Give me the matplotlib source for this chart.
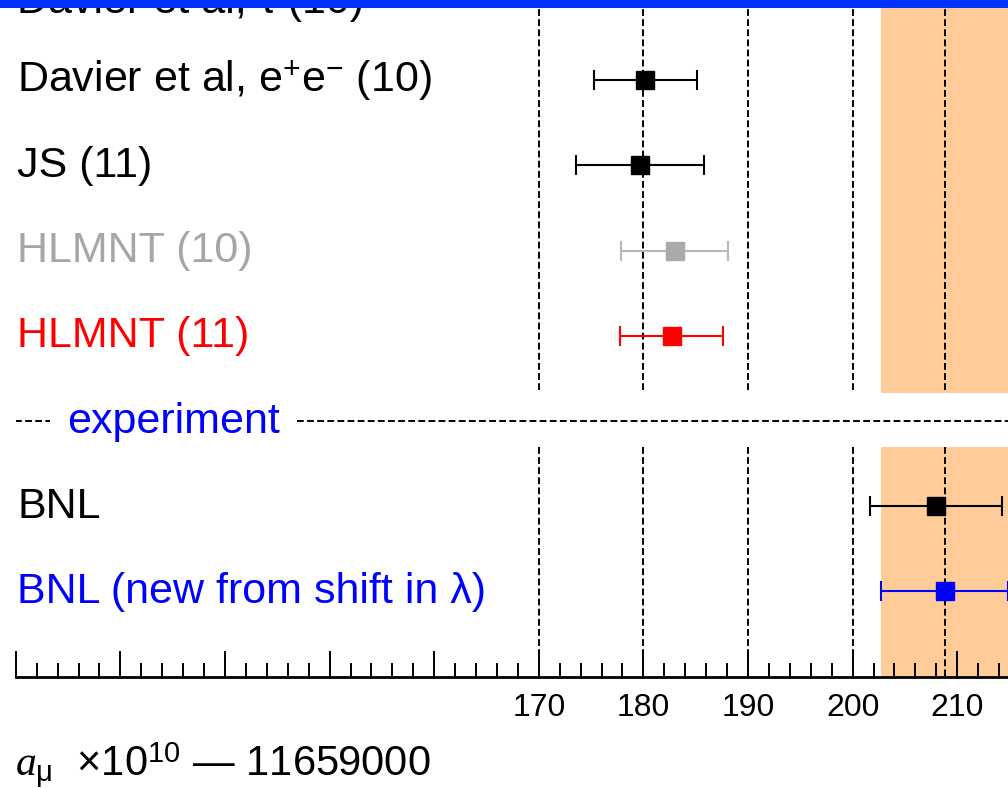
import numpy as np
import matplotlib
matplotlib.use("Agg")
import matplotlib.pyplot as plt
from matplotlib.patches import Rectangle
import matplotlib.transforms as mtransforms

plt.rcParams['font.family'] = ['Liberation Sans', 'DejaVu Sans']
plt.rcParams['mathtext.fontset'] = 'custom'
plt.rcParams['mathtext.rm'] = 'Liberation Sans'
plt.rcParams['mathtext.it'] = 'Liberation Serif:italic'
plt.rcParams['mathtext.bf'] = 'Liberation Sans:bold'

# ---- data ----
labels = ["Davier et al, \u03c4 (10)",
          "Davier et al, e$^{+}$e$^{-}$ (10)",
          "JS (11)",
          "HLMNT (10)",
          "HLMNT (11)",
          "experiment",
          "BNL",
          "BNL (new from shift in \u03bb)"]
label_colors = ["black", "black", "black", "#A6A6A6", "#FF0000", "#0000FF", "black", "#0000FF"]
values = [None, 180.2, 179.7, 183.0, 182.7, None, 208.0, 208.8]
errors = [None, 4.9, 6.1, 5.1, 4.9, None, 6.3, 6.1]
marker_colors = [None, "black", "black", "#AAAAAA", "#FF0000", None, "black", "#0000FF"]
line_colors = [None, "black", "black", "#B8B8B8", "#FF0000", None, "black", "#0000FF"]

ref_lines = [170, 180, 190, 200]
band_center = 208.8
band_half = 6.1
major_ticks = list(range(120, 211, 10))
labeled_ticks = [170, 180, 190, 200, 210]
xlabel = "$a_{\\mathrm{\\mu}}$  \u00d710$^{10}$ \u2014 11659000"

# ---- figure ----
W, H = 1008, 788
fig = plt.figure(figsize=(W / 100, H / 100), dpi=100)
ax_left = 15.8 / W
ax_bottom = (H - 676.6) / H
ax_width = 993.7 / W
ax_height = (676.6 + 5) / H
ax = fig.add_axes([ax_left, ax_bottom, ax_width, ax_height])
ax.set_xlim(120, 215)
ax.set_ylim(8, 0)

rows = np.arange(len(labels), dtype=float)
rows[0] += 0.076  # first (partly hidden) row sits slightly lower

sep_row = labels.index("experiment")
gap_top = sep_row - 0.33
gap_bot = sep_row + 0.31

# band
ax.add_patch(Rectangle((band_center - band_half, -1), 2 * band_half, gap_top + 1,
                       facecolor="#FFCC99", edgecolor="none", zorder=0))
ax.add_patch(Rectangle((band_center - band_half, gap_bot), 2 * band_half, 8 - gap_bot,
                       facecolor="#FFCC99", edgecolor="none", zorder=0))

dash = (0, (3.5, 1.7))
for xv in ref_lines + [band_center]:
    ax.vlines(xv, -1, gap_top, colors="black", linestyles=dash, linewidth=1.4, zorder=1)
    ax.vlines(xv, gap_bot, 8, colors="black", linestyles=dash, linewidth=1.4, zorder=1)

# separator
ax.hlines(sep_row, 119.9, 123.3, colors="black", linestyles=dash, linewidth=1.4, zorder=1)
ax.hlines(sep_row, 146.9, 216, colors="black", linestyles=dash, linewidth=1.4, zorder=1)

# points
for i, (v, e) in enumerate(zip(values, errors)):
    if v is None:
        continue
    ax.errorbar([v], [rows[i]], xerr=[e], fmt="s", color=line_colors[i],
                mfc=marker_colors[i], mec=marker_colors[i], ms=13,
                elinewidth=1.5, capsize=7.5, capthick=1.5, zorder=3)

# labels
offs = mtransforms.offset_copy(ax.transData, fig=fig, x=0, y=-11.5 * 0.72, units="points")
for i, (lab, c) in enumerate(zip(labels, label_colors)):
    xpos = 120.12 if lab != "experiment" else 124.9
    ax.text(xpos, rows[i], lab, color=c, fontsize=31, ha="left", va="baseline",
            transform=offs, zorder=4)

# axes styling
for s in ["left", "right", "top"]:
    ax.spines[s].set_visible(False)
ax.spines["bottom"].set_linewidth(2.0)
ax.set_yticks([])
ax.set_xticks(major_ticks)
ax.set_xticklabels([str(t) if t in labeled_ticks else "" for t in major_ticks])
ax.set_xticks(np.arange(120, 216, 2), minor=True)
ax.tick_params(axis="x", which="major", direction="in", length=18.7, width=1.4,
               pad=11.5, labelsize=23)
ax.tick_params(axis="x", which="minor", direction="in", length=10.2, width=1.4)
ax.patch.set_alpha(0)

fig.text(15 / W, (H - 776) / H, xlabel, fontsize=30, ha="left", va="baseline")

# header bar
fig.patches.append(Rectangle((0, 1 - 7.5 / H), 1, 7.5 / H, transform=fig.transFigure,
                             facecolor="#0033FF", edgecolor="none", zorder=10))

fig.savefig("out.png", dpi=100)
